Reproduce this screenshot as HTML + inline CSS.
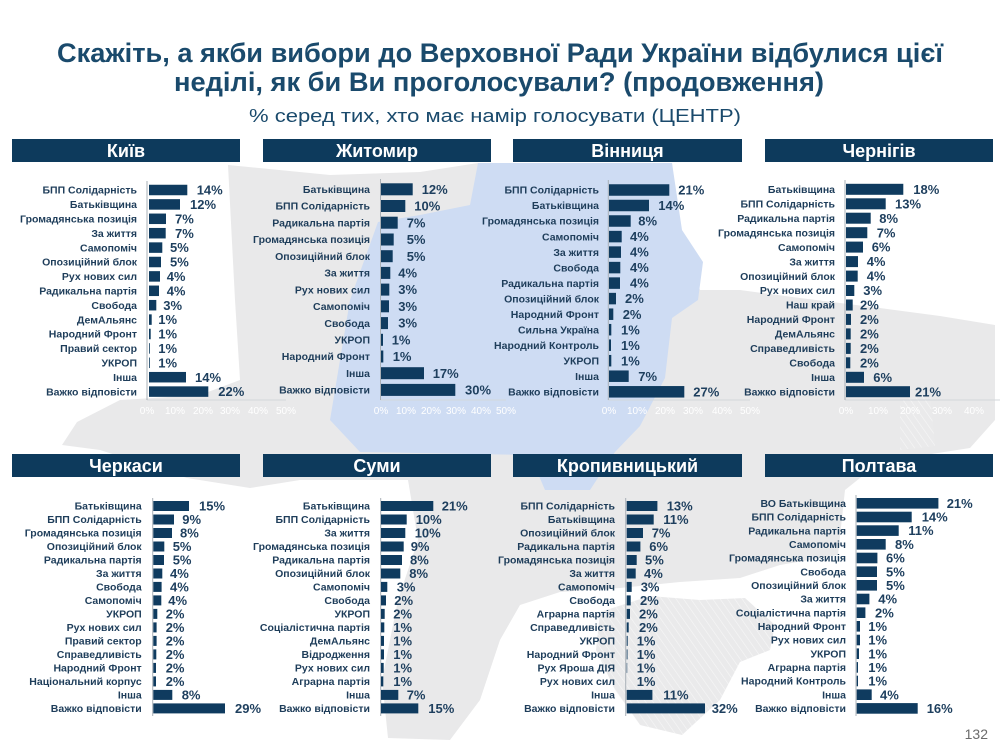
<!DOCTYPE html>
<html><head><meta charset="utf-8"><style>
html,body{margin:0;padding:0;background:#fff;}
svg{display:block;}
text{font-family:"Liberation Sans","DejaVu Sans",sans-serif;}
.t{fill:#1a4a6c;font-weight:bold;}
.h{fill:#fff;font-weight:bold;font-size:18px;text-anchor:middle;}
.l{fill:#1e3d5a;font-weight:bold;font-size:10.5px;text-anchor:end;}
.v{fill:#1e3f5e;font-weight:bold;font-size:13px;}
.a{fill:#ffffff;font-size:10px;text-anchor:middle;}
.b{fill:#0f3b5f;}
.hb{fill:#0d3a5c;}
.ax{stroke:#a9b0b7;stroke-width:1;fill:none;}
.hx{stroke:#d3d7db;stroke-width:1;fill:none;}
</style></head><body>
<svg width="1000" height="750" viewBox="0 0 1000 750" xmlns="http://www.w3.org/2000/svg">
<defs>
<pattern id="hatch" width="6" height="6" patternUnits="userSpaceOnUse" patternTransform="rotate(-35)">
<rect width="6" height="6" fill="#eaeaeb"/><line x1="0" y1="0" x2="0" y2="6" stroke="#f7f7f7" stroke-width="1.2"/>
</pattern>
</defs>
<rect width="1000" height="750" fill="#fff"/>
<!-- map -->
<polygon fill="#e9e9ea" points="62,445 100,450 187,478 250,488 300,480 408,480 418,540 398,600 382,680 388,738 450,740 480,700 500,640 520,605 560,592 620,588 680,582 740,578 780,565 838,555 845,490 880,462 970,448 995,420 995,325 940,316 880,308 800,298 740,290 700,290 680,230 672,163 478,163 420,172 330,175 228,165 235,300 240,380 200,395 120,400 77,422"/>
<polygon fill="url(#hatch)" points="600,612 650,596 700,600 745,598 775,625 770,650 740,662 720,700 682,735 640,725 615,690 596,650"/>
<polygon fill="url(#hatch)" points="900,400 930,395 935,446 900,450"/>
<polygon fill="#cedcf3" points="478,163 672,163 682,230 703,262 698,300 672,318 665,378 640,426 615,452 590,490 545,490 530,455 360,452 330,420 350,300 378,222 420,215 470,205"/>

<!-- title -->
<text class="t" x="57" y="62" font-size="27" textLength="886" lengthAdjust="spacingAndGlyphs">Скажіть, а якби вибори до Верховної Ради України відбулися цієї</text>
<text class="t" x="174" y="91" font-size="27" textLength="650" lengthAdjust="spacingAndGlyphs">неділі, як би Ви проголосували? (продовження)</text>
<text x="249" y="122" font-size="18" fill="#1a4a6c" textLength="492" lengthAdjust="spacingAndGlyphs">% серед тих, хто має намір голосувати (ЦЕНТР)</text>

<!-- headers -->
<rect class="hb" x="12" y="139" width="228" height="23"/><text class="h" x="126" y="157">Київ</text>
<rect class="hb" x="263" y="139" width="228" height="23"/><text class="h" x="377" y="157">Житомир</text>
<rect class="hb" x="513" y="139" width="229" height="23"/><text class="h" x="627.5" y="157">Вінниця</text>
<rect class="hb" x="765" y="139" width="228" height="23"/><text class="h" x="879" y="157">Чернігів</text>
<rect class="hb" x="12" y="454" width="228" height="23"/><text class="h" x="126" y="472">Черкаси</text>
<rect class="hb" x="263" y="454" width="228" height="23"/><text class="h" x="377" y="472">Суми</text>
<rect class="hb" x="513" y="454" width="229" height="23"/><text class="h" x="627.5" y="472">Кропивницький</text>
<rect class="hb" x="765" y="454" width="228" height="23"/><text class="h" x="879" y="472">Полтава</text>

<!-- KYIV -->
<line class="hx" x1="147" y1="400" x2="286" y2="400"/>
<line class="ax" x1="147" y1="181" x2="147" y2="400"/>
<text class="a" x="147" y="414">0%</text><text class="a" x="175" y="414">10%</text><text class="a" x="203" y="414">20%</text><text class="a" x="230" y="414">30%</text><text class="a" x="258" y="414">40%</text><text class="a" x="286" y="414">50%</text>
<g>
<text class="l" x="137" y="193.7">БПП Солідарність</text><rect class="b" x="149" y="184.75" width="38.3" height="10.5"/><text class="v" x="196.7" y="194.6">14%</text>
<text class="l" x="137" y="208.1">Батьківщина</text><rect class="b" x="149" y="199.15" width="31" height="10.5"/><text class="v" x="190" y="209">12%</text>
<text class="l" x="137" y="222.5">Громадянська позиція</text><rect class="b" x="149" y="213.55" width="17" height="10.5"/><text class="v" x="175" y="223.4">7%</text>
<text class="l" x="137" y="236.9">За життя</text><rect class="b" x="149" y="227.95" width="16.7" height="10.5"/><text class="v" x="175" y="237.8">7%</text>
<text class="l" x="137" y="251.3">Самопоміч</text><rect class="b" x="149" y="242.35" width="13.3" height="10.5"/><text class="v" x="170" y="252.2">5%</text>
<text class="l" x="137" y="265.7">Опозиційний блок</text><rect class="b" x="149" y="256.75" width="12" height="10.5"/><text class="v" x="170" y="266.6">5%</text>
<text class="l" x="137" y="280.1">Рух нових сил</text><rect class="b" x="149" y="271.15" width="11" height="10.5"/><text class="v" x="166.7" y="281">4%</text>
<text class="l" x="137" y="294.5">Радикальна партія</text><rect class="b" x="149" y="285.55" width="10" height="10.5"/><text class="v" x="166.7" y="295.4">4%</text>
<text class="l" x="137" y="308.9">Свобода</text><rect class="b" x="149" y="299.95" width="7.3" height="10.5"/><text class="v" x="163.3" y="309.8">3%</text>
<text class="l" x="137" y="323.3">ДемАльянс</text><rect class="b" x="149" y="314.35" width="2.7" height="10.5"/><text class="v" x="158.3" y="324.2">1%</text>
<text class="l" x="137" y="337.7">Народний Фронт</text><rect class="b" x="149" y="328.75" width="1.7" height="10.5"/><text class="v" x="158.3" y="338.6">1%</text>
<text class="l" x="137" y="352.1">Правий сектор</text><rect class="b" x="149" y="343.15" width="0.8" height="10.5"/><text class="v" x="158.3" y="353">1%</text>
<text class="l" x="137" y="366.5">УКРОП</text><rect class="b" x="149" y="357.55" width="0.8" height="10.5"/><text class="v" x="158.3" y="367.4">1%</text>
<text class="l" x="137" y="380.9">Інша</text><rect class="b" x="149" y="371.95" width="37" height="10.5"/><text class="v" x="195" y="381.8">14%</text>
<text class="l" x="137" y="395.3">Важко відповісти</text><rect class="b" x="149" y="386.35" width="59.3" height="10.5"/><text class="v" x="218.3" y="396.2">22%</text>
</g>

<!-- ZHYTOMYR -->
<line class="hx" x1="380.5" y1="400" x2="506" y2="400"/>
<line class="ax" x1="380.5" y1="179" x2="380.5" y2="400"/>
<text class="a" x="381" y="414">0%</text><text class="a" x="406" y="414">10%</text><text class="a" x="431" y="414">20%</text><text class="a" x="456" y="414">30%</text><text class="a" x="481" y="414">40%</text><text class="a" x="506" y="414">50%</text>
<g>
<text class="l" x="370" y="193">Батьківщина</text><rect class="b" x="381" y="183.3" width="31.7" height="12"/><text class="v" x="421.7" y="193.9">12%</text>
<text class="l" x="370" y="209.7">БПП Солідарність</text><rect class="b" x="381" y="200" width="24.3" height="12"/><text class="v" x="414.3" y="210.6">10%</text>
<text class="l" x="370" y="226.4">Радикальна партія</text><rect class="b" x="381" y="216.7" width="16.7" height="12"/><text class="v" x="406.7" y="227.3">7%</text>
<text class="l" x="370" y="243.2">Громадянська позиція</text><rect class="b" x="381" y="233.5" width="12.7" height="12"/><text class="v" x="406.7" y="244.1">5%</text>
<text class="l" x="370" y="259.9">Опозиційний блок</text><rect class="b" x="381" y="250.2" width="11.7" height="12"/><text class="v" x="406.7" y="260.8">5%</text>
<text class="l" x="370" y="276.6">За життя</text><rect class="b" x="381" y="266.9" width="9.3" height="12"/><text class="v" x="398.3" y="277.5">4%</text>
<text class="l" x="370" y="293.3">Рух нових сил</text><rect class="b" x="381" y="283.6" width="8.3" height="12"/><text class="v" x="398.3" y="294.2">3%</text>
<text class="l" x="370" y="310">Самопоміч</text><rect class="b" x="381" y="300.3" width="8" height="12"/><text class="v" x="398.3" y="310.9">3%</text>
<text class="l" x="370" y="326.8">Свобода</text><rect class="b" x="381" y="317.1" width="7" height="12"/><text class="v" x="398.3" y="327.7">3%</text>
<text class="l" x="370" y="343.5">УКРОП</text><rect class="b" x="381" y="333.8" width="2" height="12"/><text class="v" x="391.7" y="344.4">1%</text>
<text class="l" x="370" y="360.2">Народний Фронт</text><rect class="b" x="381" y="350.5" width="2.3" height="12"/><text class="v" x="392.7" y="361.1">1%</text>
<text class="l" x="370" y="376.9">Інша</text><rect class="b" x="381" y="367.2" width="43" height="12"/><text class="v" x="432.7" y="377.8">17%</text>
<text class="l" x="370" y="393.6">Важко відповісти</text><rect class="b" x="381" y="383.9" width="74.3" height="12"/><text class="v" x="465" y="394.5">30%</text>
</g>

<!-- VINNYTSIA -->
<line class="hx" x1="608.3" y1="400" x2="750" y2="400"/>
<line class="ax" x1="608.3" y1="180" x2="608.3" y2="400"/>
<text class="a" x="609" y="414">0%</text><text class="a" x="637" y="414">10%</text><text class="a" x="665" y="414">20%</text><text class="a" x="693" y="414">30%</text><text class="a" x="722" y="414">40%</text><text class="a" x="750" y="414">50%</text>
<g>
<text class="l" x="599" y="193.7">БПП Солідарність</text><rect class="b" x="609" y="184.25" width="60.3" height="11.5"/><text class="v" x="678.3" y="194.6">21%</text>
<text class="l" x="599" y="209.2">Батьківщина</text><rect class="b" x="609" y="199.75" width="40" height="11.5"/><text class="v" x="658.3" y="210.1">14%</text>
<text class="l" x="599" y="224.7">Громадянська позиція</text><rect class="b" x="609" y="215.25" width="21.7" height="11.5"/><text class="v" x="638.3" y="225.6">8%</text>
<text class="l" x="599" y="240.3">Самопоміч</text><rect class="b" x="609" y="230.85" width="12.7" height="11.5"/><text class="v" x="630" y="241.2">4%</text>
<text class="l" x="599" y="255.8">За життя</text><rect class="b" x="609" y="246.35" width="12" height="11.5"/><text class="v" x="630" y="256.7">4%</text>
<text class="l" x="599" y="271.3">Свобода</text><rect class="b" x="609" y="261.85" width="11.3" height="11.5"/><text class="v" x="630" y="272.2">4%</text>
<text class="l" x="599" y="286.8">Радикальна партія</text><rect class="b" x="609" y="277.35" width="11" height="11.5"/><text class="v" x="630" y="287.7">4%</text>
<text class="l" x="599" y="302.3">Опозиційний блок</text><rect class="b" x="609" y="292.85" width="7" height="11.5"/><text class="v" x="625" y="303.2">2%</text>
<text class="l" x="599" y="317.9">Народний Фронт</text><rect class="b" x="609" y="308.45" width="4.3" height="11.5"/><text class="v" x="622.7" y="318.8">2%</text>
<text class="l" x="599" y="333.4">Сильна Україна</text><rect class="b" x="609" y="323.95" width="2.3" height="11.5"/><text class="v" x="621" y="334.3">1%</text>
<text class="l" x="599" y="348.9">Народний Контроль</text><rect class="b" x="609" y="339.45" width="2" height="11.5"/><text class="v" x="621" y="349.8">1%</text>
<text class="l" x="599" y="364.4">УКРОП</text><rect class="b" x="609" y="354.95" width="2.3" height="11.5"/><text class="v" x="621" y="365.3">1%</text>
<text class="l" x="599" y="379.9">Інша</text><rect class="b" x="609" y="370.45" width="19.7" height="11.5"/><text class="v" x="638.3" y="380.8">7%</text>
<text class="l" x="599" y="395.5">Важко відповісти</text><rect class="b" x="609" y="386.05" width="75.3" height="11.5"/><text class="v" x="693.3" y="396.4">27%</text>
</g>

<!-- CHERNIHIV -->
<line class="hx" x1="845" y1="400" x2="1000" y2="400"/>
<line class="ax" x1="845" y1="180" x2="845" y2="400"/>
<text class="a" x="846" y="414">0%</text><text class="a" x="878" y="414">10%</text><text class="a" x="910" y="414">20%</text><text class="a" x="942" y="414">30%</text><text class="a" x="974" y="414">40%</text>
<g>
<text class="l" x="835" y="193">Батьківщина</text><rect class="b" x="846" y="183.8" width="57.3" height="11"/><text class="v" x="913.3" y="193.9">18%</text>
<text class="l" x="835" y="207.5">БПП Солідарність</text><rect class="b" x="846" y="198.3" width="39.7" height="11"/><text class="v" x="895" y="208.4">13%</text>
<text class="l" x="835" y="221.9">Радикальна партія</text><rect class="b" x="846" y="212.7" width="24.7" height="11"/><text class="v" x="879.3" y="222.8">8%</text>
<text class="l" x="835" y="236.4">Громадянська позиція</text><rect class="b" x="846" y="227.2" width="21.3" height="11"/><text class="v" x="876.7" y="237.3">7%</text>
<text class="l" x="835" y="250.8">Самопоміч</text><rect class="b" x="846" y="241.6" width="17" height="11"/><text class="v" x="871.7" y="251.7">6%</text>
<text class="l" x="835" y="265.3">За життя</text><rect class="b" x="846" y="256.1" width="12" height="11"/><text class="v" x="866.7" y="266.2">4%</text>
<text class="l" x="835" y="279.8">Опозиційний блок</text><rect class="b" x="846" y="270.6" width="11.7" height="11"/><text class="v" x="866.7" y="280.7">4%</text>
<text class="l" x="835" y="294.2">Рух нових сил</text><rect class="b" x="846" y="285" width="8.3" height="11"/><text class="v" x="863.3" y="295.1">3%</text>
<text class="l" x="835" y="308.7">Наш край</text><rect class="b" x="846" y="299.5" width="6.7" height="11"/><text class="v" x="860" y="309.6">2%</text>
<text class="l" x="835" y="323.1">Народний Фронт</text><rect class="b" x="846" y="313.9" width="5" height="11"/><text class="v" x="860" y="324">2%</text>
<text class="l" x="835" y="337.6">ДемАльянс</text><rect class="b" x="846" y="328.4" width="4.7" height="11"/><text class="v" x="860" y="338.5">2%</text>
<text class="l" x="835" y="352.1">Справедливість</text><rect class="b" x="846" y="342.9" width="4.7" height="11"/><text class="v" x="860" y="353">2%</text>
<text class="l" x="835" y="366.5">Свобода</text><rect class="b" x="846" y="357.3" width="4.3" height="11"/><text class="v" x="860" y="367.4">2%</text>
<text class="l" x="835" y="381">Інша</text><rect class="b" x="846" y="371.8" width="18" height="11"/><text class="v" x="873.3" y="381.9">6%</text>
<text class="l" x="835" y="395.4">Важко відповісти</text><rect class="b" x="846" y="386.2" width="64" height="11"/><text class="v" x="915" y="396.3">21%</text>
</g>

<!-- CHERKASY -->
<line class="ax" x1="152.7" y1="498" x2="152.7" y2="716"/>
<g>
<text class="l" x="141.7" y="509.7">Батьківщина</text><rect class="b" x="153.3" y="501" width="35.7" height="10"/><text class="v" x="199" y="510.6">15%</text>
<text class="l" x="141.7" y="523.2">БПП Солідарність</text><rect class="b" x="153.3" y="514.5" width="20.7" height="10"/><text class="v" x="182.3" y="524.1">9%</text>
<text class="l" x="141.7" y="536.7">Громадянська позиція</text><rect class="b" x="153.3" y="528" width="18.7" height="10"/><text class="v" x="180" y="537.6">8%</text>
<text class="l" x="141.7" y="550.2">Опозиційний блок</text><rect class="b" x="153.3" y="541.5" width="11" height="10"/><text class="v" x="172.7" y="551.1">5%</text>
<text class="l" x="141.7" y="563.7">Радикальна партія</text><rect class="b" x="153.3" y="555" width="10.7" height="10"/><text class="v" x="172.7" y="564.6">5%</text>
<text class="l" x="141.7" y="577.2">За життя</text><rect class="b" x="153.3" y="568.5" width="9" height="10"/><text class="v" x="170" y="578.1">4%</text>
<text class="l" x="141.7" y="590.6">Свобода</text><rect class="b" x="153.3" y="581.9" width="8.3" height="10"/><text class="v" x="170" y="591.5">4%</text>
<text class="l" x="141.7" y="604.1">Самопоміч</text><rect class="b" x="153.3" y="595.4" width="8" height="10"/><text class="v" x="168.3" y="605">4%</text>
<text class="l" x="141.7" y="617.6">УКРОП</text><rect class="b" x="153.3" y="608.9" width="4" height="10"/><text class="v" x="165.7" y="618.5">2%</text>
<text class="l" x="141.7" y="631.1">Рух нових сил</text><rect class="b" x="153.3" y="622.4" width="3.3" height="10"/><text class="v" x="165.7" y="632">2%</text>
<text class="l" x="141.7" y="644.6">Правий сектор</text><rect class="b" x="153.3" y="635.9" width="3.3" height="10"/><text class="v" x="165.7" y="645.5">2%</text>
<text class="l" x="141.7" y="658.1">Справедливість</text><rect class="b" x="153.3" y="649.4" width="3" height="10"/><text class="v" x="165.7" y="659">2%</text>
<text class="l" x="141.7" y="671.6">Народний Фронт</text><rect class="b" x="153.3" y="662.9" width="2.7" height="10"/><text class="v" x="165.7" y="672.5">2%</text>
<text class="l" x="141.7" y="685.1">Національний корпус</text><rect class="b" x="153.3" y="676.4" width="2.7" height="10"/><text class="v" x="165.7" y="686">2%</text>
<text class="l" x="141.7" y="698.6">Інша</text><rect class="b" x="153.3" y="689.9" width="19" height="10"/><text class="v" x="181.7" y="699.5">8%</text>
<text class="l" x="141.7" y="712.1">Важко відповісти</text><rect class="b" x="153.3" y="703.4" width="71.7" height="10"/><text class="v" x="235" y="713">29%</text>
</g>

<!-- SUMY -->
<line class="ax" x1="380.7" y1="498" x2="380.7" y2="716"/>
<g>
<text class="l" x="370" y="509.7">Батьківщина</text><rect class="b" x="381" y="501" width="52.3" height="10"/><text class="v" x="441.7" y="510.6">21%</text>
<text class="l" x="370" y="523.2">БПП Солідарність</text><rect class="b" x="381" y="514.5" width="25.7" height="10"/><text class="v" x="415.7" y="524.1">10%</text>
<text class="l" x="370" y="536.7">За життя</text><rect class="b" x="381" y="528" width="24.3" height="10"/><text class="v" x="414.7" y="537.6">10%</text>
<text class="l" x="370" y="550.2">Громадянська позиція</text><rect class="b" x="381" y="541.5" width="22.7" height="10"/><text class="v" x="410.7" y="551.1">9%</text>
<text class="l" x="370" y="563.7">Радикальна партія</text><rect class="b" x="381" y="555" width="21" height="10"/><text class="v" x="410" y="564.6">8%</text>
<text class="l" x="370" y="577.2">Опозиційний блок</text><rect class="b" x="381" y="568.5" width="19.3" height="10"/><text class="v" x="409.3" y="578.1">8%</text>
<text class="l" x="370" y="590.6">Самопоміч</text><rect class="b" x="381" y="581.9" width="6.3" height="10"/><text class="v" x="396.7" y="591.5">3%</text>
<text class="l" x="370" y="604.1">Свобода</text><rect class="b" x="381" y="595.4" width="5" height="10"/><text class="v" x="394.3" y="605">2%</text>
<text class="l" x="370" y="617.6">УКРОП</text><rect class="b" x="381" y="608.9" width="3.7" height="10"/><text class="v" x="393.3" y="618.5">2%</text>
<text class="l" x="370" y="631.1">Соціалістична партія</text><rect class="b" x="381" y="622.4" width="3.3" height="10"/><text class="v" x="393.3" y="632">1%</text>
<text class="l" x="370" y="644.6">ДемАльянс</text><rect class="b" x="381" y="635.9" width="3" height="10"/><text class="v" x="393.3" y="645.5">1%</text>
<text class="l" x="370" y="658.1">Відродження</text><rect class="b" x="381" y="649.4" width="3" height="10"/><text class="v" x="393.3" y="659">1%</text>
<text class="l" x="370" y="671.6">Рух нових сил</text><rect class="b" x="381" y="662.9" width="2.7" height="10"/><text class="v" x="393.3" y="672.5">1%</text>
<text class="l" x="370" y="685.1">Аграрна партія</text><rect class="b" x="381" y="676.4" width="2.3" height="10"/><text class="v" x="393.3" y="686">1%</text>
<text class="l" x="370" y="698.6">Інша</text><rect class="b" x="381" y="689.9" width="17.3" height="10"/><text class="v" x="406.7" y="699.5">7%</text>
<text class="l" x="370" y="712.1">Важко відповісти</text><rect class="b" x="381" y="703.4" width="37.3" height="10"/><text class="v" x="428.3" y="713">15%</text>
</g>

<!-- KROPYVNYTSKYI -->
<line class="ax" x1="625.7" y1="498" x2="625.7" y2="716"/>
<g>
<text class="l" x="615" y="509.7">БПП Солідарність</text><rect class="b" x="626.7" y="501" width="30.7" height="10"/><text class="v" x="666.7" y="510.6">13%</text>
<text class="l" x="615" y="523.2">Батьківщина</text><rect class="b" x="626.7" y="514.5" width="27" height="10"/><text class="v" x="663.3" y="524.1">11%</text>
<text class="l" x="615" y="536.7">Опозиційний блок</text><rect class="b" x="626.7" y="528" width="16.3" height="10"/><text class="v" x="651.7" y="537.6">7%</text>
<text class="l" x="615" y="550.2">Радикальна партія</text><rect class="b" x="626.7" y="541.5" width="13.7" height="10"/><text class="v" x="649.3" y="551.1">6%</text>
<text class="l" x="615" y="563.7">Громадянська позиція</text><rect class="b" x="626.7" y="555" width="10" height="10"/><text class="v" x="645" y="564.6">5%</text>
<text class="l" x="615" y="577.2">За життя</text><rect class="b" x="626.7" y="568.5" width="9" height="10"/><text class="v" x="644" y="578.1">4%</text>
<text class="l" x="615" y="590.6">Самопоміч</text><rect class="b" x="626.7" y="581.9" width="5" height="10"/><text class="v" x="640.7" y="591.5">3%</text>
<text class="l" x="615" y="604.1">Свобода</text><rect class="b" x="626.7" y="595.4" width="4" height="10"/><text class="v" x="640" y="605">2%</text>
<text class="l" x="615" y="617.6">Аграрна партія</text><rect class="b" x="626.7" y="608.9" width="3.3" height="10"/><text class="v" x="639" y="618.5">2%</text>
<text class="l" x="615" y="631.1">Справедливість</text><rect class="b" x="626.7" y="622.4" width="2" height="10"/><text class="v" x="639" y="632">2%</text>
<text class="l" x="615" y="644.6">УКРОП</text><rect class="b" x="626.7" y="635.9" width="1" height="10"/><text class="v" x="636.7" y="645.5">1%</text>
<text class="l" x="615" y="658.1">Народний Фронт</text><rect class="b" x="626.7" y="649.4" width="0.8" height="10"/><text class="v" x="636.7" y="659">1%</text>
<text class="l" x="615" y="671.6">Рух Яроша ДІЯ</text><rect class="b" x="626.7" y="662.9" width="0.5" height="10"/><text class="v" x="636.7" y="672.5">1%</text>
<text class="l" x="615" y="685.1">Рух нових сил</text><text class="v" x="636.7" y="686">1%</text>
<text class="l" x="615" y="698.6">Інша</text><rect class="b" x="626.7" y="689.9" width="25.7" height="10"/><text class="v" x="663.3" y="699.5">11%</text>
<text class="l" x="615" y="712.1">Важко відповісти</text><rect class="b" x="626.7" y="703.4" width="78.3" height="10"/><text class="v" x="711.7" y="713">32%</text>
</g>

<!-- POLTAVA -->
<line class="ax" x1="856" y1="495" x2="856" y2="716"/>
<g>
<text class="l" x="846" y="507">ВО Батьківщина</text><rect class="b" x="856.7" y="498" width="81.7" height="10.6"/><text class="v" x="946.7" y="507.9">21%</text>
<text class="l" x="846" y="520.7">БПП Солідарність</text><rect class="b" x="856.7" y="511.7" width="55" height="10.6"/><text class="v" x="921.7" y="521.6">14%</text>
<text class="l" x="846" y="534.3">Радикальна партія</text><rect class="b" x="856.7" y="525.3" width="42" height="10.6"/><text class="v" x="908.3" y="535.2">11%</text>
<text class="l" x="846" y="548">Самопоміч</text><rect class="b" x="856.7" y="539" width="29" height="10.6"/><text class="v" x="895" y="548.9">8%</text>
<text class="l" x="846" y="561.7">Громадянська позиція</text><rect class="b" x="856.7" y="552.7" width="20.7" height="10.6"/><text class="v" x="886" y="562.6">6%</text>
<text class="l" x="846" y="575.4">Свобода</text><rect class="b" x="856.7" y="566.4" width="20.3" height="10.6"/><text class="v" x="886" y="576.3">5%</text>
<text class="l" x="846" y="589">Опозиційний блок</text><rect class="b" x="856.7" y="580" width="20.3" height="10.6"/><text class="v" x="886" y="589.9">5%</text>
<text class="l" x="846" y="602.7">За життя</text><rect class="b" x="856.7" y="593.7" width="12.7" height="10.6"/><text class="v" x="878.3" y="603.6">4%</text>
<text class="l" x="846" y="616.4">Соціалістична партія</text><rect class="b" x="856.7" y="607.4" width="8.7" height="10.6"/><text class="v" x="875" y="617.3">2%</text>
<text class="l" x="846" y="630">Народний Фронт</text><rect class="b" x="856.7" y="621" width="3.3" height="10.6"/><text class="v" x="868.3" y="630.9">1%</text>
<text class="l" x="846" y="643.7">Рух нових сил</text><rect class="b" x="856.7" y="634.7" width="3.3" height="10.6"/><text class="v" x="868.3" y="644.6">1%</text>
<text class="l" x="846" y="657.4">УКРОП</text><rect class="b" x="856.7" y="648.4" width="2.3" height="10.6"/><text class="v" x="868.3" y="658.3">1%</text>
<text class="l" x="846" y="671.1">Аграрна партія</text><rect class="b" x="856.7" y="662.1" width="1.3" height="10.6"/><text class="v" x="868.3" y="672">1%</text>
<text class="l" x="846" y="684.7">Народний Контроль</text><rect class="b" x="856.7" y="675.7" width="1.3" height="10.6"/><text class="v" x="868.3" y="685.6">1%</text>
<text class="l" x="846" y="698.4">Інша</text><rect class="b" x="856.7" y="689.4" width="15" height="10.6"/><text class="v" x="880" y="699.3">4%</text>
<text class="l" x="846" y="712.1">Важко відповісти</text><rect class="b" x="856.7" y="703.1" width="61" height="10.6"/><text class="v" x="926.7" y="713">16%</text>
</g>

<text x="988" y="739" font-size="14" fill="#6b6b6b" text-anchor="end">132</text>
</svg>
</body></html>
